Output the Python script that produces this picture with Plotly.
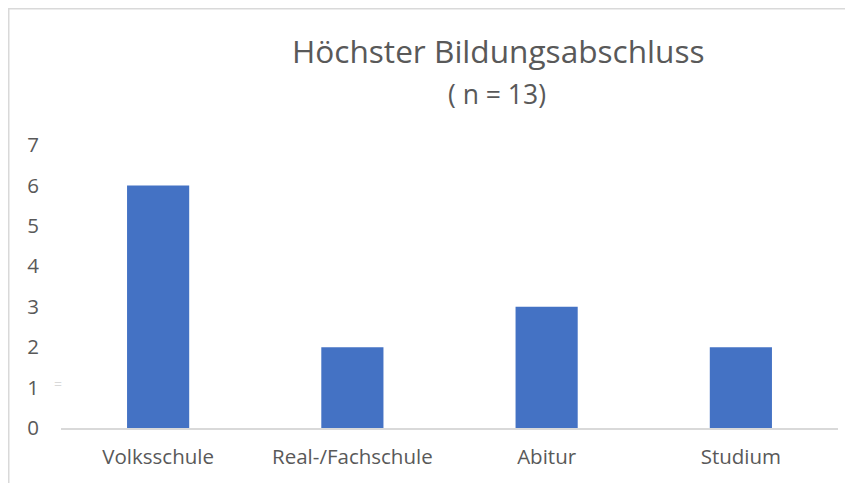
import plotly.graph_objects as go

# Höchster Bildungsabschluss, n = 13
categories = ["Volksschule", "Real-/Fachschule", "Abitur", "Studium"]
counts = [6, 2, 3, 2]
y_ticks = [0, 1, 2, 3, 4, 5, 6, 7]

TEXT_GRAY = "#595959"
LINE_GRAY = "#d9d9d9"
BAR_BLUE = "#4472C4"
FONT = "Open Sans"

# the page puts the figure 8px in from the top-left corner
PAGE_OFFSET = 8


class AbschlussChart:
    def __init__(self, width=853, height=483):
        self.width = width
        self.height = height
        self.margin = dict(l=53, r=23, t=137, b=63)
        self.fig = None

    # screen pixel -> paper coordinates, used for the decorations only
    def px_x(self, px):
        plot_w = self.width - self.margin["l"] - self.margin["r"]
        return (px - PAGE_OFFSET - self.margin["l"]) / plot_w

    def px_y(self, py):
        plot_h = self.height - self.margin["t"] - self.margin["b"]
        return (self.height - self.margin["b"] - (py - PAGE_OFFSET)) / plot_h

    def create(self):
        self.fig = go.Figure(
            go.Bar(
                x=categories,
                y=counts,
                marker=dict(color=BAR_BLUE, line=dict(width=0)),
                hoverinfo="x+y",
            )
        )

        self.fig.update_layout(
            width=self.width,
            height=self.height,
            margin=self.margin,
            paper_bgcolor="white",
            plot_bgcolor="white",
            bargap=0.68,
            showlegend=False,
            font=dict(family=FONT, color=TEXT_GRAY, size=20),
        )

        self.fig.update_xaxes(
            showgrid=False,
            showline=True,
            linecolor=LINE_GRAY,
            linewidth=1.5,
            ticks="",
            ticklabelstandoff=10,
            tickfont=dict(size=20.5, color=TEXT_GRAY),
            zeroline=False,
        )

        self.fig.update_yaxes(
            range=[0, max(y_ticks)],
            tickvals=y_ticks,
            showgrid=False,
            showline=False,
            zeroline=False,
            ticks="",
            ticklabelstandoff=21,
            tickfont=dict(size=20.5, color=TEXT_GRAY),
        )

        # title and sample size
        self.fig.add_annotation(
            text="Höchster Bildungsabschluss",
            xref="paper", yref="paper",
            x=self.px_x(498.7), y=self.px_y(50),
            xanchor="center", yanchor="middle",
            showarrow=False,
            font=dict(family=FONT, size=31.6, color=TEXT_GRAY),
        )
        self.fig.add_annotation(
            text="( n = 13)",
            xref="paper", yref="paper",
            x=self.px_x(497), y=self.px_y(93.5),
            xanchor="center", yanchor="middle",
            showarrow=False,
            font=dict(family=FONT, size=26.5, color=TEXT_GRAY),
        )

        # faint leftover mark next to the axis
        self.fig.add_annotation(
            text="=",
            xref="paper", yref="paper",
            x=self.px_x(57.5), y=self.px_y(383.5),
            xanchor="center", yanchor="middle",
            showarrow=False,
            font=dict(family=FONT, size=14, color=LINE_GRAY),
        )

        # chart area frame (right and bottom edges fall outside the shot)
        self.fig.add_shape(
            type="rect",
            xref="paper", yref="paper",
            x0=self.px_x(PAGE_OFFSET + 0.75), x1=self.px_x(self.width + 30),
            y0=self.px_y(self.height + 30), y1=self.px_y(PAGE_OFFSET + 0.75),
            line=dict(color=LINE_GRAY, width=1.5),
            fillcolor="rgba(0,0,0,0)",
            layer="below",
        )

    def save(self):
        self.fig.write_html("out.html")

    def run(self):
        self.create()
        self.save()


if __name__ == "__main__":
    AbschlussChart().run()
